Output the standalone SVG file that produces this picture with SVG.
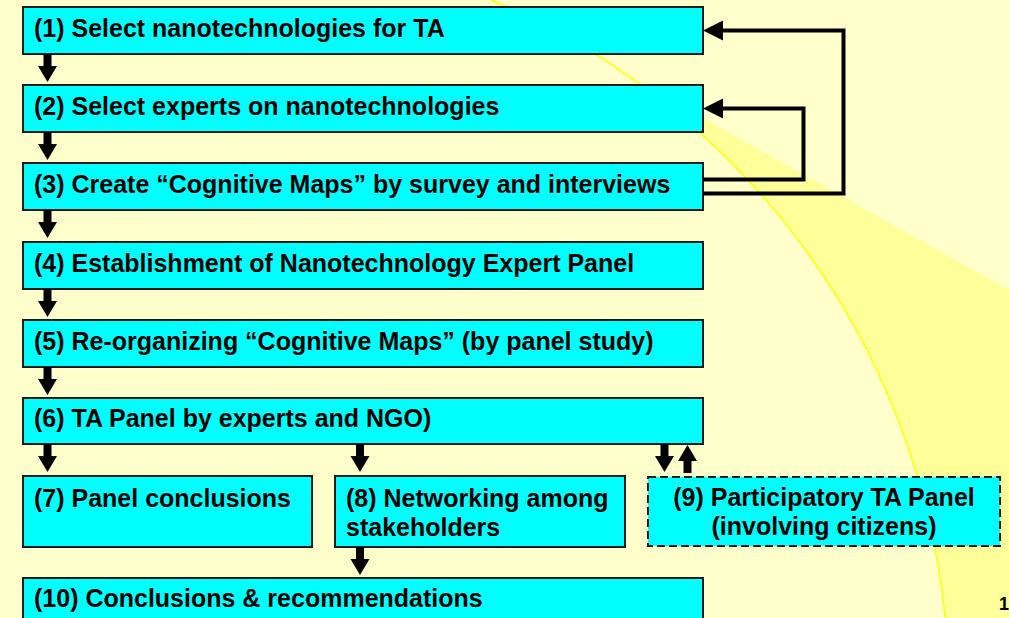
<svg xmlns="http://www.w3.org/2000/svg" width="1009" height="618" viewBox="0 0 1009 618">
<style>
.box{fill:#00FFFF;stroke:#1a1a1a;stroke-width:2}
.dash{fill:#00FFFF;stroke:#1a1a1a;stroke-width:2;stroke-dasharray:8 4}
.t{font-family:"Liberation Sans",Arial,sans-serif;font-weight:bold;font-size:25px;fill:#000}
.tc{text-anchor:middle}
.blk{fill:#000}
.fb{fill:none;stroke:#000;stroke-width:4;stroke-linejoin:miter}
</style>
<defs>
<marker id="ah" markerUnits="userSpaceOnUse" markerWidth="21" markerHeight="21" refX="0" refY="10" orient="auto">
<path d="M0,0 L20,10 L0,20 z" fill="#000"/>
</marker>
<path id="dn" d="M-4,0 H4 V12 H9.5 L0,28 L-9.5,12 H-4 z"/>
</defs>
<rect x="0" y="0" width="1009" height="618" fill="#FFFFCC"/>
<path d="M635,80 L1009,290 L1009,618 L945,618 A750,750 0 0 0 635,80 z" fill="#FFFF99"/>
<path d="M491,0 A750,750 0 0 1 947,640" fill="none" stroke="#FFFF00" stroke-width="1.5"/>

<g id="n1"><rect class="box" x="23" y="7" width="680" height="47"/><text class="t" x="34" y="37">(1) Select nanotechnologies for TA</text></g>
<g id="n2"><rect class="box" x="23" y="85" width="680" height="47"/><text class="t" x="34" y="115">(2) Select experts on nanotechnologies</text></g>
<g id="n3"><rect class="box" x="23" y="163" width="680" height="47"/><text class="t" x="34" y="193">(3) Create “Cognitive Maps” by survey and interviews</text></g>
<g id="n4"><rect class="box" x="23" y="242" width="680" height="47"/><text class="t" x="34" y="272">(4) Establishment of Nanotechnology Expert Panel</text></g>
<g id="n5"><rect class="box" x="23" y="320" width="680" height="47"/><text class="t" x="34" y="350">(5) Re-organizing “Cognitive Maps” (by panel study)</text></g>
<g id="n6"><rect class="box" x="23" y="398" width="680" height="46"/><text class="t" x="34" y="427">(6) TA Panel by experts and NGO)</text></g>
<g id="n7"><rect class="box" x="23" y="476" width="289" height="71"/><text class="t" x="34" y="507">(7) Panel conclusions</text></g>
<g id="n8"><rect class="box" x="335" y="476" width="290" height="71"/><text class="t" x="346" y="507">(8) Networking among</text><text class="t" x="346" y="536">stakeholders</text></g>
<g id="n9"><rect class="dash" x="648" y="477" width="352" height="69"/><text class="t tc" x="824" y="506">(9) Participatory TA Panel</text><text class="t tc" x="824" y="535">(involving citizens)</text></g>
<g id="n10"><rect class="box" x="23" y="578" width="680" height="45"/><text class="t" x="34" y="607">(10) Conclusions &amp; recommendations</text></g>

<g id="connectors">
<use href="#dn" class="blk" x="47.5" y="54"/>
<use href="#dn" class="blk" x="47.5" y="132"/>
<use href="#dn" class="blk" x="47.5" y="210"/>
<use href="#dn" class="blk" x="47.5" y="289"/>
<use href="#dn" class="blk" x="47.5" y="367"/>
<use href="#dn" class="blk" x="47.5" y="444"/>
<use href="#dn" class="blk" x="360" y="444"/>
<use href="#dn" class="blk" x="360" y="547"/>
<use href="#dn" class="blk" x="664.5" y="444"/>
<use href="#dn" class="blk" transform="translate(687.5,473) scale(1,-1)"/>
<path class="fb" d="M703,179.5 H803.5 V108.5 H723" marker-end="url(#ah)"/>
<path class="fb" d="M703,193.5 H843.5 V30.5 H723" marker-end="url(#ah)"/>
</g>
<text x="999" y="610" style="font-family:'Liberation Sans',Arial,sans-serif;font-weight:bold;font-size:18px">1</text>
</svg>
